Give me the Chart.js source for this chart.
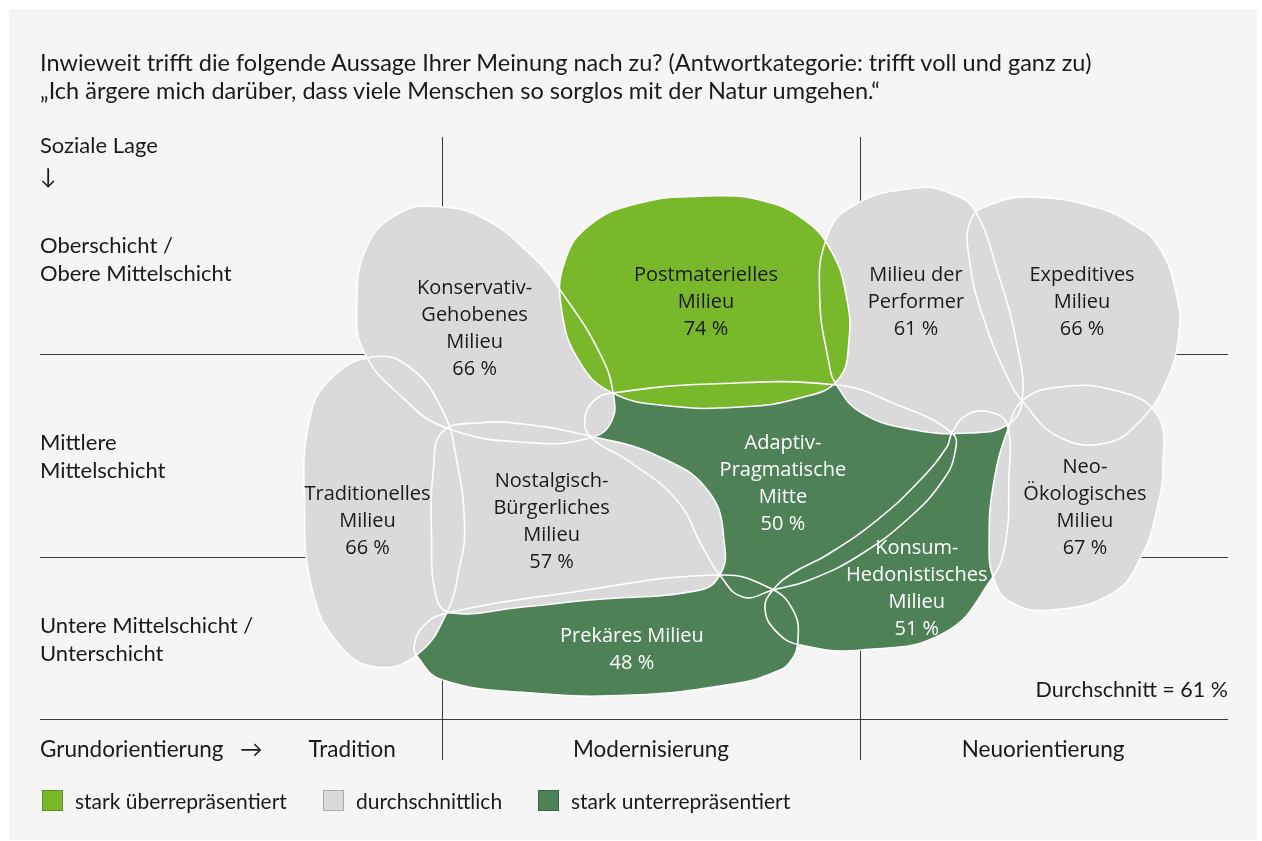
<!DOCTYPE html>
<html lang="de">
<head>
<meta charset="utf-8">
<title>Sinus-Milieus: Umgang mit der Natur</title>
<script src="https://cdn.jsdelivr.net/npm/chart.js@4"></script>
<style>
  html, body { margin: 0; padding: 0; background: #ffffff; }
  #wrap { position: relative; width: 1262px; height: 841px; overflow: hidden; }
  #panel { position: absolute; left: 9px; top: 9px; width: 1248px; height: 831px; background: #f5f5f5; }
  #chart { position: absolute; left: 0; top: 0; }
  .t { position: absolute; font-family: Lato, sans-serif; font-size: 22px; line-height: 28px; color: #1a1a1a; white-space: nowrap; }
  .title { font-size: 23.5px; }
  .axis { font-size: 22.5px; }
  .small { font-size: 21px; }
  .c { transform: translateX(-50%); }
  .sw { position: absolute; width: 21px; height: 21px; box-sizing: border-box; border: 1px solid rgba(0,0,0,0.22); }
</style>
</head>
<body>
<div id="wrap">
  <div id="panel"></div>
  <canvas id="chart" width="1262" height="841"></canvas>
  <div class="t title" style="left:40px; top:48px;">Inwieweit trifft die folgende Aussage Ihrer Meinung nach zu? (Antwortkategorie: trifft voll und ganz zu)<br>„Ich ärgere mich darüber, dass viele Menschen so sorglos mit der Natur umgehen.“</div>
  <div class="t" style="left:40px; top:131px;">Soziale Lage</div>
  <div class="t" style="left:40px; top:162px;">↓</div>
  <div id="rows"></div>
  <div class="t axis" style="left:40px; top:735px;">Grundorientierung</div>
  <div class="t axis" style="left:240px; top:735px;">→</div>
  <div id="cols"></div>
  <div class="t" id="avg" style="right:34px; top:675px; font-size:21.5px;"></div>
  <div id="legend"></div>
</div>
<script>
// Milieus, von oben nach unten gezeichnet (erstes Element liegt oben)
const milieuNames = [
  'Postmaterielles\nMilieu',
  'Konservativ-\nGehobenes\nMilieu',
  'Milieu der\nPerformer',
  'Expeditives\nMilieu',
  'Neo-\nÖkologisches\nMilieu',
  'Traditionelles\nMilieu',
  'Nostalgisch-\nBürgerliches\nMilieu',
  'Adaptiv-\nPragmatische\nMitte',
  'Konsum-\nHedonistisches\nMilieu',
  'Prekäres Milieu'
];
const milieuValues = [74, 66, 61, 66, 67, 66, 57, 50, 51, 48];
// 0 = stark überrepräsentiert, 1 = durchschnittlich, 2 = stark unterrepräsentiert
const milieuGroup = [0, 1, 1, 1, 1, 1, 1, 2, 2, 2];
const average = 61;

const groupLabels = ['stark überrepräsentiert', 'durchschnittlich', 'stark unterrepräsentiert'];
const groupColors = ['#79b72b', '#dadada', '#4e8256'];

// x: Grundorientierung (Grenzen bei 1 und 2), y: soziale Lage (Grenzen bei 1 und 2)
const orientationLabels = ['Tradition', 'Modernisierung', 'Neuorientierung'];
const orientationCenters = [0.785, 1.5, 2.438];
const orientationBounds = [1, 2];
const socialLabels = ['Oberschicht /\nObere Mittelschicht', 'Mittlere\nMittelschicht', 'Untere Mittelschicht /\nUnterschicht'];
const socialBounds = [0.2, 1, 2];

// Umrisse der Milieus (Stützpunkte, geschlossene Kurven)
const postmatOutline = [[1.634,2.778],[1.761,2.759],[1.868,2.660],[1.933,2.502],[1.967,2.291],[1.974,2.069],[1.947,1.872],[1.856,1.783],[1.713,1.739],[1.545,1.744],[1.409,1.808],[1.330,1.961],[1.287,2.217],[1.294,2.453],[1.354,2.635],[1.474,2.744]];
const konservOutline = [[1.002,2.724],[1.108,2.660],[1.218,2.478],[1.287,2.305],[1.378,2.005],[1.411,1.798],[1.404,1.660],[1.354,1.586],[1.218,1.562],[1.012,1.635],[0.900,1.798],[0.816,2.005],[0.797,2.217],[0.821,2.527],[0.900,2.695]];
const performerOutline = [[1.978,2.724],[2.132,2.818],[2.227,2.783],[2.278,2.695],[2.330,2.399],[2.373,2.069],[2.388,1.773],[2.352,1.650],[2.261,1.611],[2.132,1.626],[2.005,1.709],[1.943,1.852],[1.926,1.956],[1.904,2.281],[1.919,2.562]];
const expeditivOutline = [[2.416,2.773],[2.562,2.724],[2.648,2.645],[2.715,2.527],[2.758,2.281],[2.763,2.103],[2.734,1.872],[2.672,1.675],[2.589,1.562],[2.476,1.591],[2.390,1.764],[2.356,1.872],[2.297,2.167],[2.263,2.448],[2.266,2.665],[2.323,2.744]];
const neoOutline = [[2.476,1.837],[2.605,1.823],[2.708,1.709],[2.725,1.463],[2.708,1.217],[2.672,1.000],[2.605,0.823],[2.459,0.739],[2.364,0.773],[2.321,0.887],[2.309,1.084],[2.321,1.379],[2.356,1.640],[2.390,1.773]];
const tradOutline = [[0.835,1.985],[0.923,1.936],[1.002,1.724],[1.036,1.478],[1.055,1.148],[1.043,0.951],[1.012,0.724],[0.940,0.517],[0.844,0.458],[0.756,0.567],[0.691,0.837],[0.672,1.281],[0.684,1.675],[0.732,1.872]];
const nostalgOutline = [[1.002,1.616],[1.084,1.660],[1.194,1.655],[1.354,1.596],[1.522,1.493],[1.641,1.315],[1.677,1.049],[1.665,0.911],[1.617,0.837],[1.354,0.788],[1.194,0.754],[1.024,0.724],[0.988,0.798],[0.976,1.118],[0.981,1.443]];
const adaptivOutline = [[1.409,1.808],[1.641,1.852],[1.945,1.847],[2.079,1.759],[2.220,1.611],[2.227,1.512],[2.199,1.379],[2.120,1.197],[2.000,1.010],[1.880,0.887],[1.792,0.837],[1.720,0.803],[1.665,0.911],[1.624,1.049],[1.562,1.281],[1.443,1.478],[1.359,1.586],[1.342,1.675],[1.366,1.773]];
const konsumOutline = [[1.792,0.837],[1.840,0.921],[1.921,1.010],[2.041,1.182],[2.144,1.379],[2.208,1.542],[2.220,1.611],[2.256,1.700],[2.311,1.714],[2.352,1.650],[2.356,1.379],[2.347,1.059],[2.313,0.887],[2.201,0.626],[2.005,0.542],[1.856,0.567],[1.797,0.640],[1.773,0.749]];
const prekarOutline = [[1.014,0.724],[1.299,0.823],[1.665,0.911],[1.785,0.847],[1.840,0.739],[1.852,0.591],[1.833,0.483],[1.792,0.429],[1.696,0.374],[1.457,0.320],[1.218,0.330],[1.002,0.394],[0.943,0.507],[0.935,0.567],[0.959,0.665]];

// Beschriftungsanker (Mitte des Textblocks)
const labelX = [1.632, 1.079, 2.134, 2.531, 2.538, 0.823, 1.263, 1.816, 2.136, 1.455];
const labelY = [2.261, 2.131, 2.261, 2.261, 1.249, 1.182, 1.180, 1.367, 0.850, 0.549];

const outlines = [postmatOutline, konservOutline, performerOutline, expeditivOutline, neoOutline,
  tradOutline, nostalgOutline, adaptivOutline, konsumOutline, prekarOutline];

// closed line: a line controller whose element loops back to its first point
class BlobController extends Chart.LineController {
  update(mode) {
    const line = this._cachedMeta.dataset;
    line._loop = true;
    line._fullLoop = true;
    super.update(mode);
    line._loop = true;
    line._fullLoop = true;
    line.points = this._cachedMeta.data;
  }
}
BlobController.id = 'blob';
BlobController.defaults = Chart.LineController.defaults;
Chart.register(BlobController);

const dividers = {
  id: 'dividers',
  beforeDraw(chart) {
    const {ctx, chartArea: a, scales: {x, y}} = chart;
    ctx.save();
    ctx.strokeStyle = '#3a3a3a';
    ctx.lineWidth = 1;
    socialBounds.forEach(v => {
      const py = Math.round(y.getPixelForValue(v)) + 0.5;
      ctx.beginPath(); ctx.moveTo(a.left, py); ctx.lineTo(a.right, py); ctx.stroke();
    });
    orientationBounds.forEach(v => {
      const px = Math.round(x.getPixelForValue(v)) + 0.5;
      ctx.beginPath(); ctx.moveTo(px, a.top); ctx.lineTo(px, a.bottom); ctx.stroke();
    });
    ctx.restore();
  }
};

const milieuLabels = {
  id: 'milieuLabels',
  afterDatasetsDraw(chart) {
    const {ctx, scales: {x, y}} = chart;
    ctx.save();
    ctx.font = '20px "Open Sans"';
    ctx.textAlign = 'center';
    ctx.textBaseline = 'alphabetic';
    milieuNames.forEach((name, i) => {
      const lines = name.split('\n').concat(milieuValues[i] + ' %');
      const cx = x.getPixelForValue(labelX[i]);
      const cy = y.getPixelForValue(labelY[i]);
      ctx.fillStyle = milieuGroup[i] === 2 ? '#ffffff' : '#1a1a1a';
      lines.forEach((t, k) => {
        ctx.fillText(t, cx, cy + (k - (lines.length - 1) / 2) * 27 + 7);
      });
    });
    ctx.restore();
  }
};

new Chart(document.getElementById('chart'), {
  type: 'scatter',
  data: {
    datasets: outlines.map((pts, i) => ({
      type: 'blob',
      label: milieuNames[i].replace(/\n/g, ' '),
      data: pts.map(p => ({x: p[0], y: p[1]})),
      backgroundColor: groupColors[milieuGroup[i]],
      borderColor: '#ffffff',
      borderWidth: 1.6,
      borderJoinStyle: 'round',
      fill: 'shape',
      tension: 0.45,
      showLine: true,
      pointRadius: 0,
      pointHoverRadius: 0
    }))
  },
  options: {
    responsive: false,
    animation: false,
    events: [],
    layout: { padding: { left: 40, right: 34, top: 137, bottom: 81 } },
    scales: {
      x: { type: 'linear', min: 0.04, max: 2.88, display: false },
      y: { type: 'linear', min: 0, max: 3.069, display: false }
    },
    plugins: {
      legend: { display: false },
      tooltip: { enabled: false },
      filler: { drawTime: 'beforeDatasetsDraw' }
    }
  },
  plugins: [dividers, milieuLabels]
});

// Randbeschriftungen
const rowTops = [231, 428, 611];
document.getElementById('rows').innerHTML = socialLabels.map((s, i) =>
  `<div class="t" style="left:40px; top:${rowTops[i]}px;">${s.replace('\n', '<br>')}</div>`).join('');
document.getElementById('cols').innerHTML = orientationLabels.map((s, i) =>
  `<div class="t axis c" style="left:${24 + orientationCenters[i] * 418}px; top:735px;">${s}</div>`).join('');
document.getElementById('avg').textContent = 'Durchschnitt = ' + average + ' %';
const legendX = [42, 323, 538];
document.getElementById('legend').innerHTML = groupLabels.map((s, i) =>
  `<div class="sw" style="left:${legendX[i]}px; top:790px; background:${groupColors[i]};"></div>` +
  `<div class="t small" style="left:${legendX[i] + 33}px; top:787px;">${s}</div>`).join('');
</script>
</body>
</html>
